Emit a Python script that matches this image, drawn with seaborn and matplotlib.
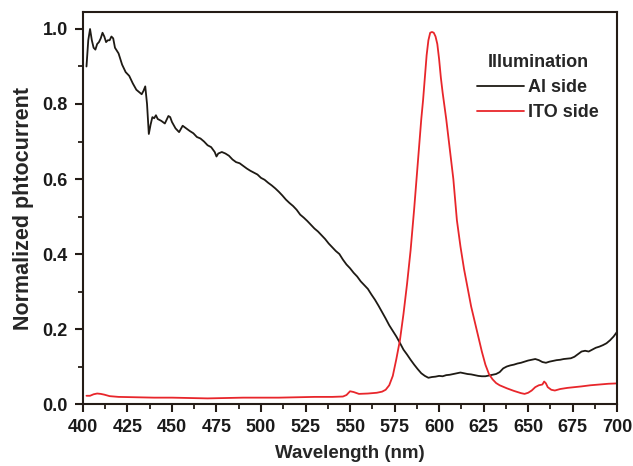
import numpy as np
import pandas as pd
import matplotlib
matplotlib.use("Agg")
import matplotlib.pyplot as plt
import seaborn as sns
from matplotlib.ticker import MultipleLocator

al_wl = [402,403,404,405,406,407,408,409,410,411,412,413,414,415,416,417,418,420,422,424,426,428,430,432,433,434,435,436,437,438,439,440,441,442,444,446,448,449,450,452,454,456,458,460,462,464,466,468,470,472,474,475,476,478,480,482,484,486,488,490,492,494,496,498,500,502,504,506,508,510,512,514,516,518,520,522,524,526,528,530,532,534,536,538,540,542,544,546,548,550,552,554,556,558,560,562,564,566,568,570,572,574,576,578,580,582,584,586,588,590,592,594,596,598,600,602,604,606,608,610,612,614,616,618,620,622,624,626,628,630,632,634,636,638,640,642,644,646,648,650,652,654,656,658,660,662,664,666,668,670,672,674,676,678,680,682,684,686,688,690,692,694,696,698,700]
al_val = [0.90,0.97,1.00,0.97,0.95,0.945,0.96,0.965,0.975,0.99,0.98,0.965,0.97,0.97,0.98,0.975,0.95,0.935,0.905,0.885,0.875,0.855,0.838,0.83,0.826,0.835,0.847,0.80,0.72,0.745,0.765,0.762,0.77,0.76,0.755,0.748,0.768,0.765,0.752,0.735,0.725,0.742,0.735,0.728,0.722,0.712,0.708,0.70,0.69,0.685,0.672,0.66,0.668,0.672,0.668,0.662,0.652,0.645,0.642,0.635,0.628,0.622,0.617,0.612,0.603,0.598,0.59,0.583,0.575,0.566,0.556,0.545,0.536,0.528,0.518,0.505,0.497,0.488,0.478,0.468,0.46,0.45,0.44,0.428,0.418,0.408,0.40,0.385,0.372,0.362,0.35,0.34,0.327,0.317,0.307,0.292,0.278,0.262,0.245,0.228,0.21,0.195,0.18,0.163,0.145,0.132,0.118,0.105,0.093,0.082,0.075,0.07,0.072,0.073,0.075,0.074,0.077,0.078,0.08,0.082,0.084,0.082,0.08,0.079,0.077,0.075,0.074,0.074,0.076,0.078,0.08,0.085,0.095,0.10,0.103,0.105,0.108,0.11,0.113,0.116,0.118,0.12,0.117,0.112,0.11,0.113,0.115,0.117,0.118,0.12,0.121,0.122,0.126,0.133,0.14,0.142,0.14,0.145,0.15,0.153,0.157,0.162,0.17,0.18,0.193]

ito_wl = [402,404,406,408,410,412,415,420,430,440,450,460,470,480,490,500,510,520,530,540,546,548,550,552,555,560,565,568,570,572,574,576,578,580,582,584,586,588,590,591,592,593,594,595,596,597,598,599,600,601,602,604,606,608,610,612,614,616,618,620,622,624,626,628,630,632,634,638,642,646,648,650,652,654,656,658,659,660,661,663,665,668,672,676,680,685,690,695,700]
ito_val = [0.022,0.022,0.026,0.028,0.027,0.025,0.021,0.019,0.018,0.017,0.017,0.016,0.015,0.016,0.017,0.017,0.017,0.018,0.019,0.019,0.02,0.024,0.034,0.032,0.027,0.028,0.03,0.033,0.038,0.05,0.075,0.12,0.17,0.24,0.32,0.41,0.52,0.64,0.76,0.81,0.87,0.93,0.97,0.99,0.992,0.99,0.98,0.96,0.92,0.87,0.83,0.76,0.68,0.60,0.49,0.42,0.36,0.31,0.26,0.22,0.18,0.14,0.105,0.08,0.066,0.056,0.05,0.042,0.035,0.029,0.027,0.03,0.036,0.045,0.05,0.052,0.06,0.055,0.045,0.038,0.036,0.04,0.043,0.045,0.047,0.05,0.052,0.054,0.055]

series_names = ["Al side", "ITO side"]
x_ticks = [400, 425, 450, 475, 500, 525, 550, 575, 600, 625, 650, 675, 700]
y_ticks = [0.0, 0.2, 0.4, 0.6, 0.8, 1.0]

df = pd.concat([
    pd.DataFrame({"wl": al_wl, "val": al_val, "series": series_names[0]}),
    pd.DataFrame({"wl": ito_wl, "val": ito_val, "series": series_names[1]}),
])

sns.set_style("ticks")
plt.rcParams["font.family"] = ["Liberation Sans", "DejaVu Sans"]
plt.rcParams["font.weight"] = "bold"

fig = plt.figure(figsize=(6.33, 4.66), dpi=100)
ax = fig.add_axes([0.131, 0.133, 0.844, 0.841])
edge = "#241c16"
sns.lineplot(data=df, x="wl", y="val", hue="series", palette={"Al side": "#1e1a14", "ITO side": "#e8262b"},
             linewidth=1.3, ax=ax, sort=False, estimator=None)

ax.set_xlim(400, 700)
ax.set_ylim(0, 1.045)
ax.set_xticks(x_ticks)
ax.set_yticks(y_ticks)
ax.set_yticklabels([f"{v:.1f}" for v in y_ticks])
ax.xaxis.set_minor_locator(MultipleLocator(12.5))
ax.yaxis.set_minor_locator(MultipleLocator(0.1))
ax.tick_params(which="major", direction="out", length=6, width=1.5, color=edge, labelsize=13,
               labelcolor="#1a1a1a", pad=5)
ax.tick_params(which="minor", direction="out", length=3.5, width=1.3, color=edge)
for s in ax.spines.values():
    s.set_visible(True)
    s.set_color(edge)
    s.set_linewidth(1.5)
ax.set_xlabel("Wavelength (nm)", fontsize=13.5, fontweight="bold", labelpad=6)
ax.set_ylabel("Normalized phtocurrent", fontsize=15.5, fontweight="bold", labelpad=6)

leg = ax.legend(title="Illumination", loc="upper right", bbox_to_anchor=(0.99, 0.925), frameon=False,
                fontsize=13, title_fontproperties={"weight": "bold", "size": 13},
                handlelength=2.6, handletextpad=0.25, labelspacing=0.45, borderaxespad=0.3)
for t in leg.get_texts():
    t.set_fontweight("bold")
for l in leg.get_lines():
    l.set_linewidth(1.3)

fig.savefig("out.png", dpi=100)
